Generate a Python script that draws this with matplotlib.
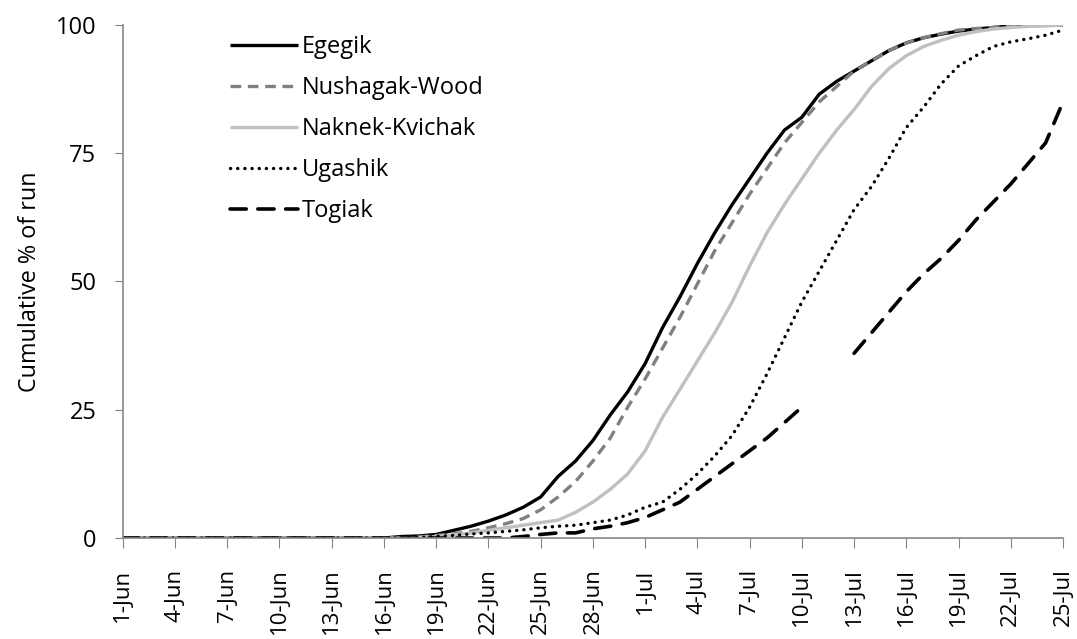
import numpy as np
import pandas as pd
import matplotlib
matplotlib.use('Agg')
import matplotlib.pyplot as plt

# daily dates 1-Jun .. 25-Jul
dates = pd.date_range('2000-06-01', '2000-07-25', freq='D')
day_labels = ['%d-%s' % (d.day, d.strftime('%b')) for d in dates]

nan = np.nan
# cumulative % of run, one value per day
egegik = [0] * 16 + [0.3, 0.4, 0.7, 1.5, 2.3, 3.3, 4.5, 6, 8, 12, 15, 19, 24, 28.5,
                     34, 41, 47, 53.5, 59.5, 65, 70, 75, 79.5, 82, 86.5, 89, 91, 93,
                     95, 96.5, 97.5, 98.2, 98.8, 99.2, 99.5, 99.8, 100, 100, 100]
nushagak = [0] * 17 + [0.2, 0.5, 0.8, 1.3, 2, 2.8, 3.8, 5.5, 8, 11, 15, 19.5, 25.5,
                       31, 37, 43, 49.5, 56, 61.5, 67, 72, 77, 81, 85, 88, 91, 93,
                       95, 96.5, 97.5, 98.3, 99, 99.3, 99.5, 99.7, 99.8, 99.9, 100]
naknek = [0] * 17 + [0.1, 0.3, 0.6, 1, 1.5, 2, 2.5, 3, 3.5, 5, 7, 9.5, 12.5,
                     17, 23.5, 29, 34.5, 40, 46, 53, 59.5, 65, 70, 75, 79.5, 83.5, 88,
                     91.5, 94, 95.8, 97, 98, 98.7, 99.2, 99.5, 99.7, 99.8, 100]
ugashik = [0] * 17 + [0.1, 0.3, 0.5, 0.8, 1, 1.3, 1.6, 2, 2.3, 2.5, 3, 3.5, 4.5,
                      6, 7, 9.5, 12.5, 16, 20, 25.5, 32, 39, 46, 52, 58, 64, 68.5,
                      74, 80, 84, 88.5, 92, 94, 95.8, 96.7, 97.3, 98, 99]
togiak = [0] * 23 + [0.3, 0.7, 1, 1, 1.8, 2.3, 3, 4, 5.5, 7, 9.5, 12, 14.5, 17,
                     19.5, 22.5, 25.5, nan, nan, 36, 40, 44, 48, 51.5, 54.5, 58,
                     62, 65.5, 69, 73, 77, 85]

series = [
    ('Egegik', egegik, dict(color='black', lw=2.4, ls='-')),
    ('Nushagak-Wood', nushagak, dict(color='#808080', lw=2.4, ls=(0, (3.2, 2.0)))),
    ('Naknek-Kvichak', naknek, dict(color='#c0c0c0', lw=2.4, ls='-')),
    ('Ugashik', ugashik, dict(color='black', lw=2.4, ls=(0, (0.05, 2.1)), dash_capstyle='round')),
    ('Togiak', togiak, dict(color='black', lw=2.6, ls=(0, (4.5, 3.2)), dash_capstyle='round')),
]

plt.rcParams['font.family'] = ['Open Sans', 'DejaVu Sans']

fig = plt.figure(figsize=(10.77, 6.39), dpi=100)
ax = fig.add_axes([0.114, 0.158, 0.873, 0.803])

x = np.arange(len(dates))
for name, vals, style in series:
    ax.plot(x, vals, label=name, solid_capstyle='butt', **style)

ax.set_xlim(0, len(dates) - 1)
ax.set_ylim(0, 100)
ax.set_yticks([0, 25, 50, 75, 100])
ax.set_xticks(x[::3])
ax.set_xticklabels(day_labels[::3], rotation=90, fontsize=16)
ax.tick_params(axis='y', labelsize=17, length=6, color='#868686', pad=13)
ax.tick_params(axis='x', length=7, color='#868686', pad=15)

for side in ['top', 'right']:
    ax.spines[side].set_visible(False)
for side in ['left', 'bottom']:
    ax.spines[side].set_color('#868686')
    ax.spines[side].set_linewidth(1.2)

ax.set_ylabel('Cumulative % of run', fontsize=16.8)
ax.yaxis.set_label_coords(-0.086, 0.5)

leg = ax.legend(loc='upper left', bbox_to_anchor=(0.114, 0.98), frameon=False,
                fontsize=17, handlelength=2.9, handletextpad=0.15,
                labelspacing=0.72, borderpad=0, borderaxespad=0)

fig.savefig('out.png', dpi=100)
